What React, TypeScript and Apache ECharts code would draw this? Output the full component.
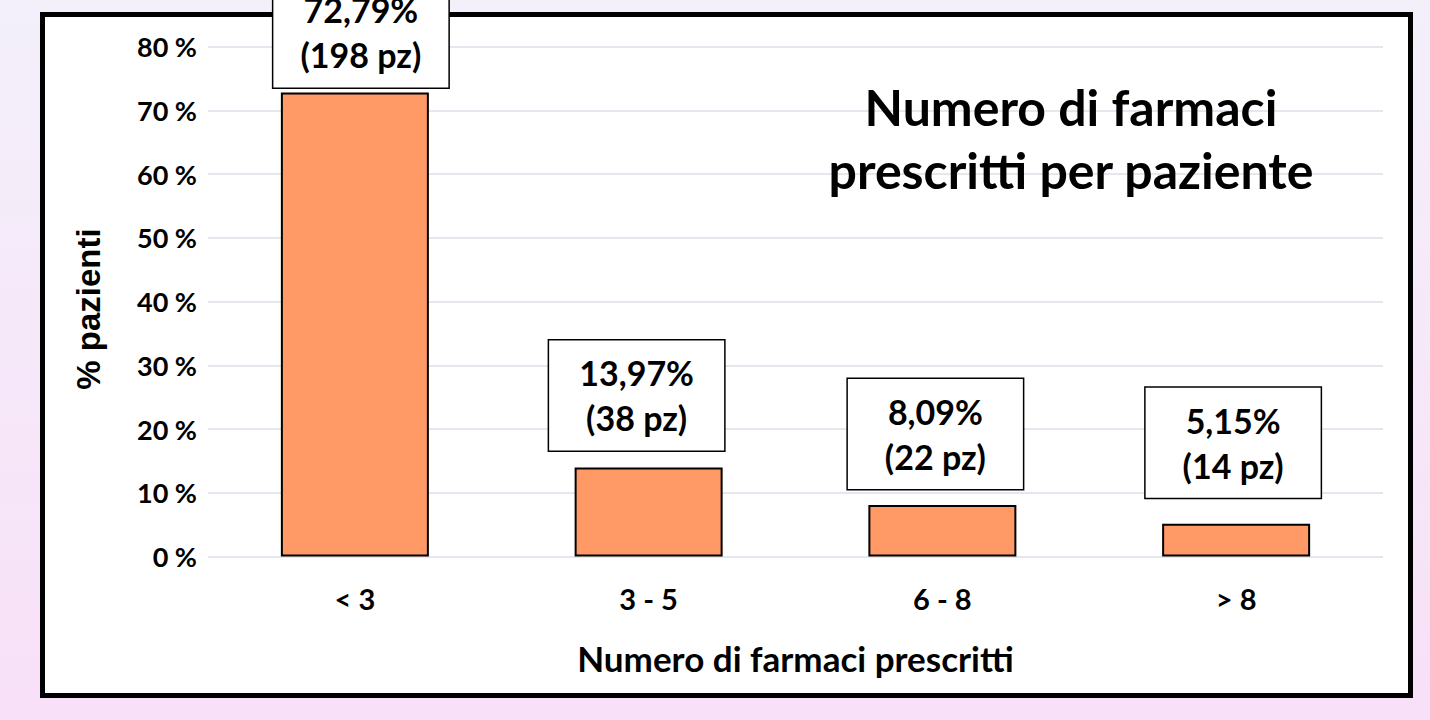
import React, { useEffect, useRef } from "react";
import * as echarts from "echarts";

const categories = ["< 3", "3 - 5", "6 - 8", "> 8"];
const percentValues = [72.79, 13.97, 8.09, 5.15];
const patientCounts = [198, 38, 22, 14];
const yTicks = [0, 10, 20, 30, 40, 50, 60, 70, 80];

// label box nudges, as placed in the original slide
const labelNudges = [
  [6, 9],
  [-12, -3],
  [-7, -2],
  [-3, -12],
];

const FONT = "Lato";

export default function App() {
  const ref = useRef<HTMLDivElement>(null);
  useEffect(() => {
    if (!ref.current) return;
    const chart = echarts.init(ref.current, null, { renderer: "svg" });
    chart.setOption({
      animation: false,
      backgroundColor: "transparent",
      graphic: [
        {
          type: "rect",
          z: -1,
          shape: { x: 42.5, y: 14.5, width: 1368, height: 681 },
          style: { fill: "#ffffff", stroke: "#000000", lineWidth: 5 },
          silent: true,
        },
        {
          type: "text",
          x: 88,
          y: 309,
          rotation: Math.PI / 2,
          style: {
            text: "% pazienti",
            fontFamily: "Liberation Sans",
            fontWeight: "bold",
            fontSize: 33,
            fill: "#000",
            align: "center",
            verticalAlign: "middle",
          },
          silent: true,
        },
      ],
      title: {
        text: "Numero di farmaci\nprescritti per paziente",
        left: 1066,
        top: 70,
        textAlign: "center",
        textStyle: {
          fontFamily: FONT,
          fontWeight: "bold",
          fontSize: 50,
          lineHeight: 63,
          color: "#000",
        },
      },
      grid: { left: 208, top: 46.5, width: 1175, height: 510 },
      xAxis: {
        type: "category",
        data: categories,
        axisLine: { show: false },
        axisTick: { show: false },
        axisLabel: {
          margin: 27,
          fontFamily: FONT,
          fontWeight: "bold",
          fontSize: 29,
          color: "#000",
        },
        name: "Numero di farmaci prescritti",
        nameLocation: "middle",
        nameGap: 84,
        nameTextStyle: {
          fontFamily: FONT,
          fontWeight: "bold",
          fontSize: 35,
          color: "#000",
        },
      },
      yAxis: {
        type: "value",
        min: yTicks[0],
        max: yTicks[yTicks.length - 1],
        interval: 10,
        axisLine: { show: false },
        axisTick: { show: false },
        splitLine: { lineStyle: { color: "#E3E7EE", width: 2 } },
        axisLabel: {
          margin: 11,
          formatter: "{value} %",
          fontFamily: FONT,
          fontWeight: "bold",
          fontSize: 27,
          color: "#000",
        },
      },
      series: [
        {
          type: "bar",
          data: percentValues.map((v, i) => ({
            value: v,
            label: { offset: labelNudges[i] },
          })),
          barWidth: 148,
          itemStyle: { color: "#FF9966", borderColor: "#000", borderWidth: 2 },
          label: {
            show: true,
            position: "top",
            distance: 14,
            formatter: (p: any) =>
              p.value.toFixed(2).replace(".", ",") + "%\n(" + patientCounts[p.dataIndex] + " pz)",
            fontFamily: FONT,
            fontWeight: "bold",
            fontSize: 34,
            lineHeight: 45,
            color: "#000",
            backgroundColor: "#fff",
            borderColor: "#000",
            borderWidth: 1.5,
            width: 175,
            align: "center",
            padding: [10, 0, 10, 0],
          },
        },
      ],
    });
    return () => chart.dispose();
  }, []);
  return (
    <div
      style={{
        position: "fixed",
        left: 0,
        top: 0,
        width: 1430,
        height: 720,
        background: "linear-gradient(to bottom, #F3F0FA, #F8E0F8)",
      }}
    >
      <div ref={ref} style={{ width: 1430, height: 720 }} />
    </div>
  );
}
